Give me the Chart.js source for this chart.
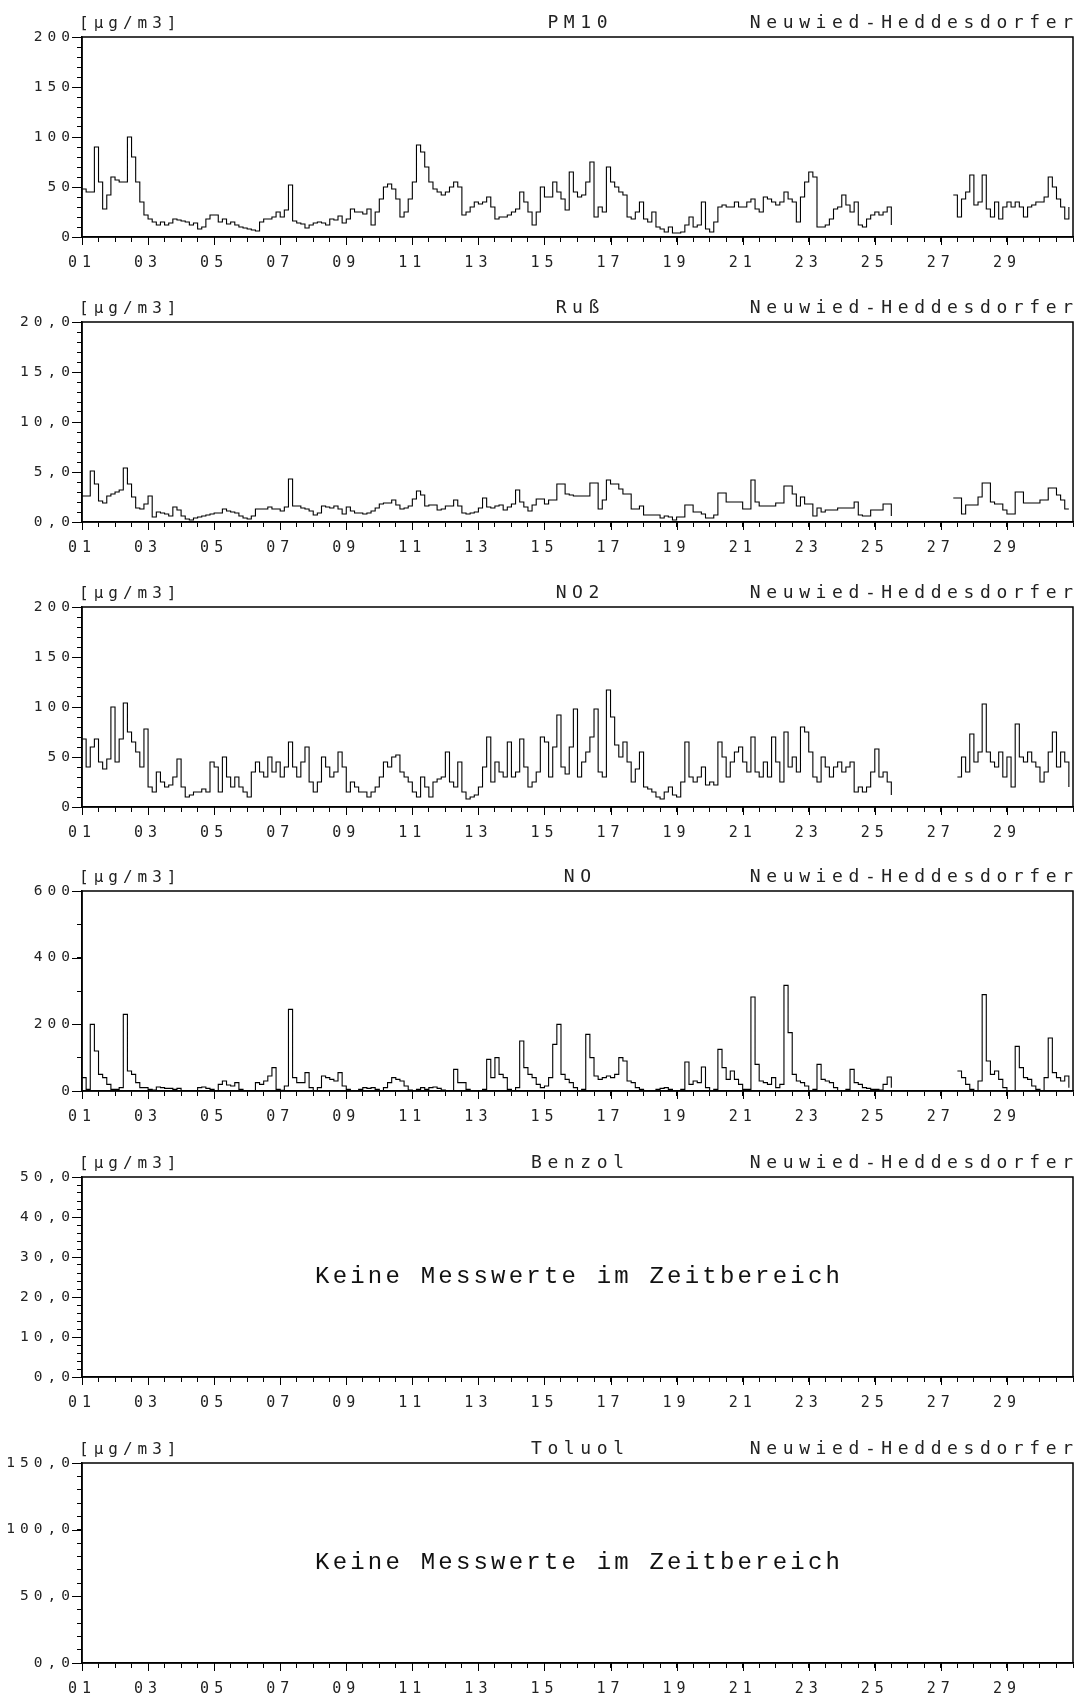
<!DOCTYPE html>
<html>
<head>
<meta charset="utf-8">
<script src="https://cdn.jsdelivr.net/npm/chart.js@4.4.1/dist/chart.umd.min.js"></script>
<style>
  html, body { margin: 0; padding: 0; background: #fff; }
  #page { position: relative; width: 1085px; height: 1697px; }
  #page canvas { position: absolute; left: 0; }
</style>
</head>
<body>
<div id="page"></div>
<script>
const STATION = 'Neuwied-Heddesdorfer';
const UNIT = '[µg/m3]';
const NO_DATA = 'Keine Messwerte im Zeitbereich';
const STEP_HOURS = 3;      // one value every 3 hours
const MONTH_HOURS = 720;   // 30 days on the x axis

// PM10, 8 values per day (00, 03, ... 21 h)
const pm10Values = [
  48,45,45,90,55,28,42,60,
  57,55,55,100,80,55,35,22,
  18,15,12,15,12,14,18,17,
  16,15,12,14,8,10,18,22,
  22,15,18,13,15,12,10,9,
  8,7,6,15,18,18,20,25,
  20,27,52,16,14,13,9,12,
  14,15,14,12,18,17,21,14,
  18,28,25,25,23,28,12,25,
  38,50,53,48,38,20,25,38,
  55,92,85,70,55,48,45,42,
  45,50,55,50,22,25,30,35,
  33,35,40,30,18,20,20,22,
  25,28,45,35,25,12,25,50,
  40,40,55,45,38,27,65,45,
  40,42,55,75,20,30,25,70,
  55,50,45,42,20,18,25,35,
  18,15,25,10,8,5,10,4,
  4,5,12,20,10,12,35,8,
  5,15,30,32,30,30,35,30,
  30,35,38,28,25,40,38,35,
  32,35,45,38,35,15,40,55,
  65,60,10,10,12,18,28,30,
  42,32,25,35,12,10,18,22,
  25,22,25,30,12,null,null,null,
  null,null,null,null,null,null,null,null,
  null,null,null,42,20,38,45,62,
  32,35,62,28,20,35,18,30,
  35,30,35,30,20,30,32,35,
  35,40,60,50,38,30,18,30
];

const russValues = [
  2.6,2.6,5.1,3.8,2.1,1.9,2.6,2.8,
  3.0,3.2,5.4,3.8,2.5,1.4,1.3,1.8,
  2.6,0.5,1.0,0.9,0.8,0.6,1.5,1.2,
  0.6,0.3,0.2,0.4,0.5,0.6,0.7,0.8,
  0.9,0.9,1.3,1.1,1.0,0.9,0.6,0.4,
  0.3,0.6,1.3,1.3,1.3,1.5,1.3,1.3,
  1.1,1.5,4.3,1.6,1.6,1.4,1.3,1.1,
  0.7,0.9,1.6,1.5,1.4,1.6,1.3,0.8,
  1.5,1.1,0.9,0.9,0.8,0.9,1.1,1.4,
  1.8,1.9,1.9,2.2,1.7,1.3,1.4,1.6,
  2.3,3.1,2.7,1.6,1.7,1.7,1.2,1.3,
  1.6,1.6,2.2,1.6,0.9,0.8,0.9,1.0,
  1.4,2.4,1.5,1.4,1.6,1.7,1.2,1.5,
  1.8,3.2,2.0,1.5,1.1,1.7,2.3,2.3,
  1.8,2.2,2.2,3.8,3.8,2.8,2.7,2.6,
  2.6,2.6,2.6,3.9,3.9,1.3,2.2,4.2,
  3.8,3.8,3.3,2.8,2.8,1.3,1.3,1.6,
  0.7,0.7,0.7,0.7,0.4,0.6,0.5,0.2,
  0.5,0.5,1.7,1.7,1.0,1.0,0.8,0.4,
  0.4,0.7,2.9,2.9,2.0,2.0,2.0,2.0,
  1.3,1.3,4.2,2.0,1.6,1.6,1.6,1.6,
  1.9,1.9,3.6,3.6,2.8,1.6,2.5,1.8,
  1.8,0.6,1.4,1.0,1.2,1.2,1.2,1.4,
  1.4,1.4,1.4,2.0,0.7,0.6,0.6,1.2,
  1.2,1.2,1.8,1.8,0.6,null,null,null,
  null,null,null,null,null,null,null,null,
  null,null,null,2.4,2.4,0.8,1.7,1.7,
  1.7,2.5,3.9,3.9,2.0,1.8,1.8,1.2,
  0.8,0.8,3.0,3.0,1.9,1.9,1.9,1.9,
  2.2,2.2,3.4,3.4,2.7,2.2,1.3,1.3
];

const no2Values = [
  68,40,60,68,45,38,48,100,
  45,68,104,75,65,55,40,78,
  20,15,35,25,20,22,30,48,
  20,10,12,15,15,18,15,45,
  40,15,50,30,20,30,20,15,
  10,35,45,35,30,50,35,45,
  30,40,65,40,30,45,60,25,
  15,25,50,40,30,35,55,40,
  15,25,20,15,15,10,15,20,
  30,45,40,50,52,35,30,25,
  15,10,30,20,10,25,28,30,
  55,25,20,45,15,8,10,12,
  20,40,70,25,45,35,30,65,
  30,35,68,40,20,25,35,70,
  65,30,60,92,40,33,60,98,
  30,45,55,70,98,35,30,117,
  90,62,50,65,45,25,38,55,
  20,18,15,10,8,15,20,12,
  10,25,65,30,25,30,40,22,
  25,22,65,50,30,45,55,60,
  45,35,70,35,30,45,30,70,
  45,25,75,40,50,35,80,75,
  55,30,25,50,40,30,40,45,
  35,40,45,15,20,15,20,35,
  58,30,35,25,12,null,null,null,
  null,null,null,null,null,null,null,null,
  null,null,null,null,30,50,35,73,
  45,55,103,55,45,40,55,30,
  50,20,83,50,45,55,45,40,
  25,35,55,75,40,55,45,20
];

const noValues = [
  40,5,200,120,50,40,20,5,
  5,10,230,60,50,25,10,10,
  5,3,12,10,8,8,5,8,
  0,0,0,0,10,12,8,5,
  0,20,30,18,15,25,5,0,
  0,0,25,20,30,45,70,5,
  2,15,245,40,25,25,55,10,
  0,10,45,40,35,30,55,15,
  5,0,0,5,10,8,10,5,
  0,10,25,40,35,30,15,3,
  0,5,10,5,10,12,8,3,
  0,0,65,25,25,5,0,0,
  0,5,95,40,100,50,40,5,
  0,10,150,70,50,40,20,10,
  15,40,140,200,50,35,25,10,
  0,5,170,100,45,35,40,45,
  40,50,100,90,30,25,10,5,
  0,0,0,5,8,10,5,0,
  0,5,87,20,30,25,72,10,
  0,5,125,70,35,60,35,20,
  5,5,282,80,30,25,20,40,
  10,20,317,175,50,30,25,15,
  0,5,80,35,30,25,10,0,
  0,5,65,25,20,10,8,5,
  5,3,20,42,10,null,null,null,
  null,null,null,null,null,null,null,null,
  null,null,null,null,60,40,20,5,
  0,30,289,90,50,60,35,10,
  0,0,134,70,40,35,15,5,
  0,40,159,55,40,30,45,10
];

const benzolValues = [];
const toluolValues = [];

const panels = [
  { title: 'PM10',   values: pm10Values,   max: 200, minor: 10,  major: 50,  decimals: 0 },
  { title: 'Ruß',    values: russValues,   max: 20,  minor: 1,   major: 5,   decimals: 1 },
  { title: 'NO2',    values: no2Values,    max: 200, minor: 10,  major: 50,  decimals: 0 },
  { title: 'NO',     values: noValues,     max: 600, minor: 100, major: 200, decimals: 0 },
  { title: 'Benzol', values: benzolValues, max: 50,  minor: 2,   major: 10,  decimals: 1 },
  { title: 'Toluol', values: toluolValues, max: 150, minor: 10,  major: 50,  decimals: 1 }
];

const panelTops = [0, 285, 570, 854, 1140, 1426];
const INK = '#000';
const TEXT = '#222';
const MONO = '"DejaVu Sans Mono", monospace';
const TICK_SPACING = '5px';

// frame, longer marks on labelled ticks, header texts, empty-panel note
const panelDecor = {
  id: 'panelDecor',
  beforeUpdate(chart) { chart.ctx.letterSpacing = TICK_SPACING; },
  beforeDraw(chart) { chart.ctx.letterSpacing = TICK_SPACING; },
  afterDraw(chart, args, opts) {
    const { ctx, chartArea: a, scales } = chart;
    ctx.save();
    ctx.strokeStyle = INK;
    ctx.lineWidth = 1.5;
    ctx.strokeRect(a.left, a.top, a.right - a.left, a.bottom - a.top);

    ctx.lineWidth = 1;
    ctx.beginPath();
    scales.x.ticks.forEach(t => {
      if (!t.label) return;
      const px = Math.round(scales.x.getPixelForValue(t.value)) + 0.5;
      ctx.moveTo(px, a.bottom);
      ctx.lineTo(px, a.bottom + 8);
    });
    scales.y.ticks.forEach(t => {
      if (!t.label) return;
      const py = Math.round(scales.y.getPixelForValue(t.value)) + 0.5;
      ctx.moveTo(a.left - 10, py);
      ctx.lineTo(a.left, py);
    });
    ctx.stroke();

    ctx.fillStyle = TEXT;
    ctx.textBaseline = 'alphabetic';
    ctx.font = '16px ' + MONO;
    ctx.letterSpacing = '5px';
    ctx.textAlign = 'left';
    ctx.fillText(UNIT, a.left - 3, a.top - 9);

    ctx.font = '18px ' + MONO;
    ctx.letterSpacing = '5.6px';
    ctx.textAlign = 'center';
    ctx.fillText(opts.title, (a.left + a.right) / 2 + 2.8, a.top - 9);
    ctx.textAlign = 'right';
    ctx.fillText(STATION, a.right + 5.6, a.top - 9);

    if (opts.empty) {
      ctx.font = '24px "Liberation Mono", monospace';
      ctx.letterSpacing = '3.2px';
      ctx.textAlign = 'center';
      ctx.textBaseline = 'middle';
      ctx.fillStyle = '#111';
      ctx.fillText(NO_DATA, (a.left + a.right) / 2 + 1.6, (a.top + a.bottom) / 2);
    }
    ctx.restore();
  }
};

const page = document.getElementById('page');

panels.forEach((p, i) => {
  const canvas = document.createElement('canvas');
  canvas.width = 1085;
  canvas.height = 285;
  canvas.style.top = panelTops[i] + 'px';
  page.appendChild(canvas);

  const points = p.values.map((v, k) => ({ x: k * STEP_HOURS, y: v }));
  const isMajor = v => Math.abs(v / p.major - Math.round(v / p.major)) < 1e-6;

  new Chart(canvas.getContext('2d'), {
    type: 'line',
    data: {
      datasets: [{
        label: p.title,
        data: points,
        borderColor: INK,
        borderWidth: 1.1,
        pointRadius: 0,
        stepped: true,
        spanGaps: false,
        fill: false
      }]
    },
    options: {
      responsive: false,
      animation: false,
      devicePixelRatio: 1,
      layout: { padding: { top: 37, right: 7, bottom: 0, left: 0 } },
      plugins: {
        legend: { display: false },
        tooltip: { enabled: false },
        panelDecor: { title: p.title, empty: p.values.length === 0 }
      },
      scales: {
        x: {
          type: 'linear',
          min: 0,
          max: MONTH_HOURS,
          afterFit: s => { s.height = 48; },
          grid: { drawOnChartArea: false, tickLength: 5, color: INK },
          border: { color: INK, width: 1.5 },
          ticks: {
            stepSize: 12,
            autoSkip: false,
            maxRotation: 0,
            padding: 12,
            color: TEXT,
            font: { family: MONO, size: 15 },
            callback: v => (v % 48 === 0 && v < MONTH_HOURS) ? String(v / 24 + 1).padStart(2, '0') : ''
          }
        },
        y: {
          min: 0,
          max: p.max,
          afterFit: s => { s.width = 82; },
          grid: { drawOnChartArea: false, tickLength: 5, color: INK },
          border: { color: INK, width: 1.5 },
          ticks: {
            stepSize: p.minor,
            autoSkip: false,
            padding: 2,
            color: TEXT,
            font: { family: MONO, size: 14.5 },
            callback: v => isMajor(v) ? v.toFixed(p.decimals).replace('.', ',') : ''
          }
        }
      }
    },
    plugins: [panelDecor]
  });
});
</script>
</body>
</html>
